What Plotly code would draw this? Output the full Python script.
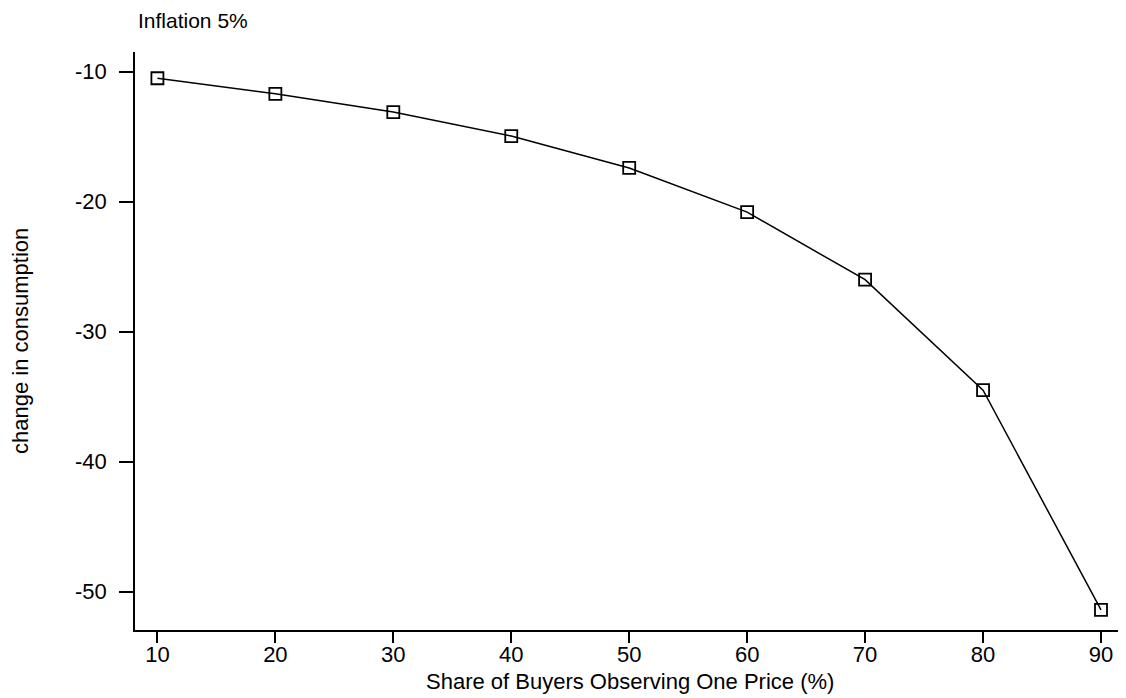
import plotly.graph_objects as go

share = [10, 20, 30, 40, 50, 60, 70, 80, 90]
change = [-10.5, -11.7, -13.1, -14.95, -17.4, -20.8, -26.0, -34.5, -51.4]
x_ticks = [10, 20, 30, 40, 50, 60, 70, 80, 90]
y_ticks = [-10, -20, -30, -40, -50]
y_tick_text = ["-10", "-20", "-30", "-40", "-50"]

fig = go.Figure()
fig.add_trace(go.Scatter(
    x=share, y=change, mode="lines+markers",
    line=dict(color="black", width=1.5),
    marker=dict(symbol="square-open", size=12, color="black", line=dict(width=1.8, color="black")),
    showlegend=False,
))

fam = "Liberation Sans, Arial, sans-serif"
tick_font = dict(family=fam, size=22, color="black")
title_font = dict(family=fam, size=21, color="black")
axis_title_font = dict(family=fam, size=22, color="black")

fig.update_layout(
    width=1118, height=690,
    margin=dict(l=127, r=2, t=44, b=68),
    paper_bgcolor="white", plot_bgcolor="white",
    font=tick_font,
    xaxis=dict(range=[8.1, 91.95], tickvals=x_ticks, showgrid=False, zeroline=False,
               showline=True, linecolor="black", linewidth=1.5, automargin=False,
               ticks="outside", ticklen=11, tickwidth=1.5, tickcolor="black",
               tickfont=tick_font, ticklabelstandoff=-7),
    yaxis=dict(range=[-52.95, -8.48], tickvals=y_ticks, ticktext=y_tick_text,
               showgrid=False, zeroline=False, automargin=False,
               showline=True, linecolor="black", linewidth=1.5,
               ticks="outside", ticklen=14, tickwidth=1.5, tickcolor="black",
               tickfont=tick_font, ticklabelstandoff=8),
)
fig.add_annotation(text="Inflation 5%", xref="paper", yref="paper", x=0, y=1,
                   xanchor="left", yanchor="middle", yshift=32, xshift=1,
                   showarrow=False, font=title_font)
fig.add_annotation(text="Share of Buyers Observing One Price (%)", xref="paper", yref="paper",
                   x=0.5, y=0, xanchor="center", yanchor="middle", yshift=-51,
                   showarrow=False, font=axis_title_font)
fig.add_annotation(text="change in consumption", xref="paper", yref="paper",
                   x=0, y=0.5, xanchor="center", yanchor="middle", xshift=-115, textangle=-90,
                   showarrow=False, font=axis_title_font)
fig.write_html("out.html")
